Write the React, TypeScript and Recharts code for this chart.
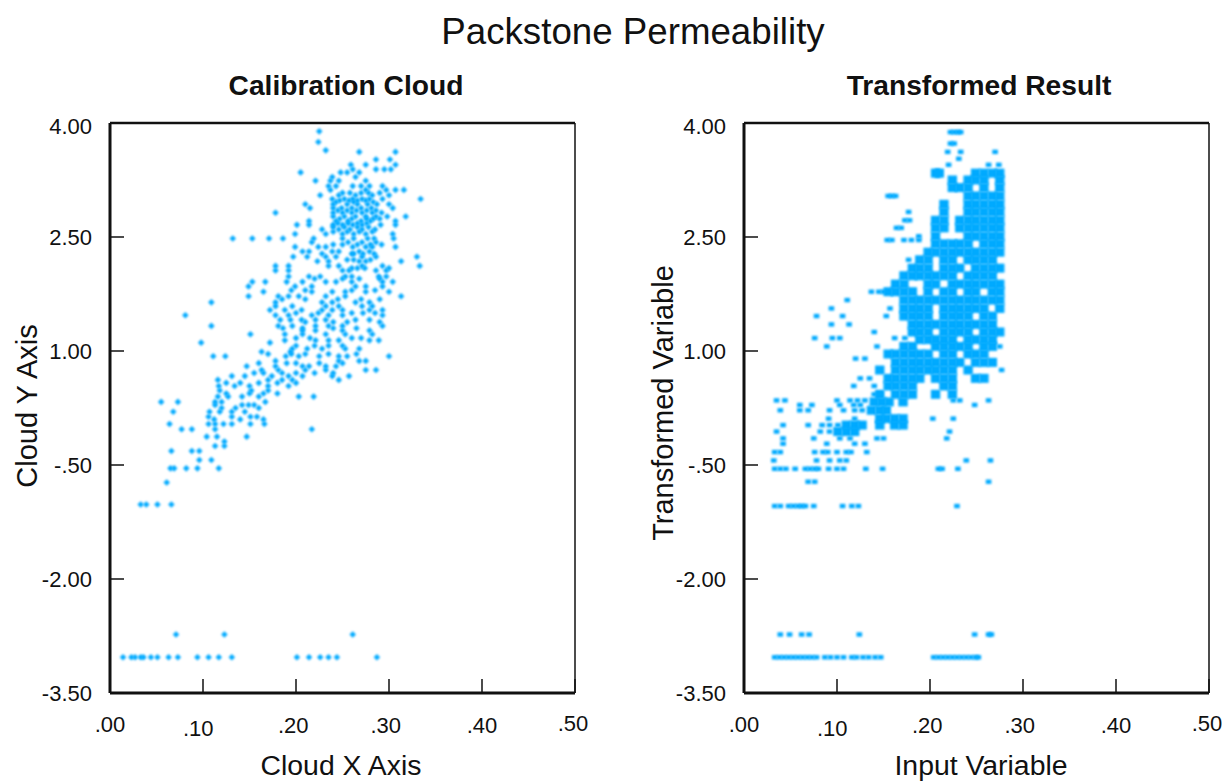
import React from "react";
import { ScatterChart, Scatter, XAxis, YAxis } from "recharts";

const xTicks = [0, 0.1, 0.2, 0.3, 0.4, 0.5];
const xTickLabels = [".00", ".10", ".20", ".30", ".40", ".50"];
const yTicks = [-3.5, -2, -0.5, 1, 2.5, 4];
const yTickLabels = ["-3.50", "-2.00", "-.50", "1.00", "2.50", "4.00"];
const mainTitle = "Packstone Permeability";
const leftTitle = "Calibration Cloud";
const rightTitle = "Transformed Result";
const CLOUD = "#00AAFF";

// each row: [y, x, x, x ...]
const cloudRows: number[][] = [
  [3.89, .225], [3.75, .224], [3.64, .232], [3.62, .268, .307], [3.52, .286, .301],
  [3.45, .259, .275, .307], [3.39, .261, .286, .295, .302], [3.35, .205, .248, .255, .268],
  [3.29, .239, .264], [3.24, .221, .237, .246, .275], [3.17, .235, .243, .261, .27, .279, .293],
  [3.12, .237, .275, .297, .307, .316], [3.05, .226, .246, .264, .282, .3],
  [3.0, .239, .252, .261, .271, .279, .293, .334], [2.98, .247, .257, .266, .275],
  [2.93, .21, .24, .255, .266, .277, .287, .3], [2.88, .215, .24, .249, .26, .27, .281, .304],
  [2.82, .178, .24, .25, .26, .271, .282, .292], [2.77, .24, .252, .264, .275, .286, .298, .318],
  [2.71, .214, .243, .256, .27, .28, .307], [2.66, .201, .214, .24, .25, .261, .271, .291, .307],
  [2.6, .228, .246, .258, .271, .285], [2.54, .199, .232, .25, .262, .275, .304],
  [2.48, .132, .153, .171, .186, .219, .25, .262, .277, .284, .305], [2.43, .217, .256, .271, .286],
  [2.37, .199, .224, .232, .261, .275, .282, .307], [2.31, .207, .214, .239, .246, .268, .279],
  [2.24, .197, .212, .232, .243, .271, .286, .33], [2.18, .223, .235, .268, .275, .313],
  [2.12, .178, .192, .235, .246, .271, .333, .293], [2.06, .178, .192, .25, .257, .286, .297],
  [1.98, .192, .214, .226, .253, .26, .289, .297], [1.91, .153, .167, .19, .207, .232, .243, .26, .293, .304],
  [1.85, .149, .199, .217, .264, .275, .293], [1.78, .165, .217, .239, .253, .275, .3],
  [1.72, .149, .181, .192, .203, .232, .253, .313], [1.64, .109, .178, .228, .239, .264, .279],
  [1.59, .178, .196, .232, .246, .271, .282], [1.54, .172, .188, .206, .228, .239, .25, .279, .293],
  [1.47, .081, .178, .192, .217, .235, .25, .293], [1.41, .183, .194, .206, .221, .232, .264, .279],
  [1.33, .109, .181, .196, .221, .235, .25, .293], [1.27, .207, .221, .25, .279],
  [1.22, .151, .188, .207, .232, .253, .282], [1.14, .188, .221, .235, .246, .279, .289],
  [1.11, .098, .172], [1.03, .196, .212, .228, .253, .268], [.99, .163, .194],
  [.93, .111, .124, .189, .203, .225, .246, .255, .3], [.87, .178, .246, .268, .275],
  [.8, .147, .178, .207, .214, .232, .243], [.75, .163, .181, .21, .232, .275, .286],
  [.67, .131, .145, .174, .192, .207, .239, .257], [.62, .116, .17, .185, .196, .246],
  [.54, .117, .134, .15, .17, .192], [.48, .118, .152, .17], [.4, .116, .127, .142, .16, .203, .219],
  [.33, .055, .073, .113, .12, .167], [.29, .113, .142, .149, .155], [.2, .068, .107, .118, .131, .145],
  [.135, .106, .131, .151, .158], [.04, .064, .106, .113, .122, .131, .151, .166],
  [-.03, .077, .088, .113, .217], [-.127, .104, .115, .147], [-.19, .123], [-.25, .113, .123],
  [-.316, .066, .088, .096], [-.435, .096, .109], [-.544, .065, .069, .082, .094, .117], [-.73, .061],
  [-1.02, .033, .039, .051, .066], [-2.73, .071, .123, .261],
  [-3.03, .014, .023, .027, .033, .036, .044, .051, .063, .073, .094, .106, .117, .131, .201, .214, .226, .235, .244, .287],
  [3.08, .25, .258, .27, .278, .29], [2.96, .243, .262, .283], [2.85, .245, .255, .265, .276, .286],
  [2.74, .247, .26, .276, .283, .29], [2.68, .245, .256, .266, .276], [2.63, .24, .252, .266, .278],
  [2.57, .24, .255, .268, .282], [2.4, .24, .25, .266, .28, .292], [2.28, .228, .26, .272, .284, .262],
  [2.2, .255, .262, .28], [2.09, .26, .266, .274, .3], [1.95, .22, .25, .268, .29], [1.8, .195, .21, .26, .285],
  [1.68, .185, .21, .245, .27, .29], [1.5, .2, .224, .26, .272, .285], [1.38, .21, .24, .255, .29],
  [1.3, .186, .207, .24, .265], [1.17, .2, .215, .26, .27], [1.07, .2, .22, .235, .25],
  [.96, .17, .195, .21, .235, .265], [.84, .16, .19, .2, .225, .25], [.71, .155, .165, .185, .2, .22, .24],
  [.58, .125, .14, .16, .18, .2], [.44, .125, .15, .165, .18], [.25, .12, .135, .16], [.1, .112, .14, .165],
];

const transformedBlocks: number[][] = [
  [3.34, .206, .21, .249, .258, .267, .275],
  [3.25, .224, .241, .249, .258, .275],
  [3.15, .224, .232, .241, .258, .275],
  [3.04, .241, .249, .258, .267, .275],
  [2.93, .215, .241, .249, .258, .267, .275],
  [2.83, .215, .241, .249, .258, .267, .275],
  [2.72, .206, .215, .232, .241, .249, .258, .267, .275],
  [2.62, .206, .215, .232, .241, .249, .258, .267, .275],
  [2.51, .206, .241, .249, .258, .267, .275],
  [2.41, .206, .215, .224, .232, .241, .258, .267, .275],
  [2.3, .198, .206, .215, .224, .232, .241, .249, .258, .267, .275],
  [2.2, .189, .198, .215, .224, .241, .249, .258, .267],
  [2.09, .181, .189, .198, .215, .224, .232, .249, .258, .267, .275],
  [1.99, .172, .181, .189, .198, .206, .215, .224, .241, .249, .258, .267],
  [1.88, .163, .172, .198, .206, .224, .232, .241, .249, .258, .267, .275],
  [1.78, .155, .163, .172, .181, .198, .215, .224, .241, .249, .267, .275],
  [1.67, .172, .181, .189, .198, .206, .215, .224, .232, .241, .249, .258, .267, .275],
  [1.56, .172, .181, .189, .198, .215, .224, .232, .241, .249, .258, .275],
  [1.46, .172, .181, .189, .198, .215, .224, .232, .241, .258, .267],
  [1.35, .181, .189, .198, .206, .215, .224, .232, .241, .249, .258, .267],
  [1.25, .181, .189, .198, .215, .224, .232, .241, .258, .267, .275],
  [1.15, .189, .198, .206, .215, .224, .241, .249, .258, .267],
  [1.06, .172, .181, .206, .215, .224, .232, .241, .258, .267],
  [.96, .155, .163, .172, .181, .189, .198, .215, .224, .241, .249, .258],
  [.85, .163, .172, .181, .189, .198, .206, .215, .224, .232, .249, .258, .267],
  [.75, .146, .163, .172, .181, .189, .198, .206, .215, .224, .241],
  [.64, .155, .163, .172, .181, .189, .206, .215, .224, .249, .258],
  [.54, .155, .163, .172, .181, .215, .224],
  [.43, .146, .163, .172, .181, .206, .224],
  [.33, .14, .148, .156, .171],
  [.22, .137, .146, .153],
  [.11, .146, .153, .162, .171],
  [.025, .11, .119, .127, .146, .162, .171],
  [-.06, .101, .11, .119],
];

const transformedDots: number[][] = [
  [3.88, .222, .226, .23, .233], [3.73, .222, .226], [3.62, .219, .233, .27], [3.53, .231],
  [3.45, .22, .263, .274], [3.04, .155, .159, .163], [2.83, .177], [2.72, .173, .178], [2.62, .164, .169],
  [2.51, .188], [2.46, .154, .159, .172, .18, .188], [2.2, .177], [1.78, .137, .15, .145], [1.67, .111],
  [1.56, .094, .157], [1.46, .078, .106, .153], [1.35, .094, .113], [1.25, .14],
  [1.17, .076, .095, .103, .162, .173], [1.06, .089, .143, .275], [.9, .12, .13], [.75, .277],
  [.64, .125, .135], [.54, .118, .14], [.43, .14, .146],
  [.35, .035, .044, .1, .114, .122, .13, .225, .232, .263], [.29, .06, .073, .103, .118, .125, .248],
  [.22, .039, .06, .069, .092, .107, .119, .127],
  [.11, .091, .119, .203, .225], [.025, .042, .069, .084, .092, .101],
  [-.06, .035, .082, .092, .221], [-.15, .042, .075, .103, .114, .143, .15, .218],
  [-.22, .042, .089, .119, .13], [-.33, .033, .039, .076, .085, .09, .1, .11, .115, .132],
  [-.44, .032, .078, .092, .103, .11, .239, .265],
  [-.55, .033, .039, .045, .055, .066, .071, .076, .08, .091, .1, .107, .131, .149, .209, .213, .23],
  [-.72, .069, .076, .263],
  [-1.04, .033, .039, .048, .053, .058, .062, .066, .075, .106, .116, .123, .229],
  [-2.73, .039, .049, .062, .07, .124, .248, .263, .266],
  [-3.03, .033, .038, .043, .048, .053, .058, .063, .068, .073, .078, .087, .093, .1, .107, .116, .121, .128, .134, .141, .147,
    .204, .209, .214, .219, .224, .229, .234, .239, .244, .249, .252],
];

const toPoints = (rows: number[][]) =>
  rows.flatMap((r) => r.slice(1).map((x) => ({ x, y: r[0] })));

const FONT = "'Liberation Sans', Arial, sans-serif";
const SOFT = { filter: "blur(0.8px)" };
const xLabelDx = [0, -4.7, -2.7, -3.3, 0, -2];
const xLabelDy = [0, 4, 1, 1, 1, -1];

const Diamond = (p: any) => (
  <path style={SOFT} d={`M${p.cx} ${p.cy - 3.3}L${p.cx + 3.3} ${p.cy}L${p.cx} ${p.cy + 3.3}L${p.cx - 3.3} ${p.cy}Z`} fill={CLOUD} />
);
const Block = (p: any) => <rect style={SOFT} x={p.cx - 4.7} y={p.cy - 4.5} width={9.4} height={9} fill={CLOUD} />;
const Dot = (p: any) => <rect style={SOFT} x={p.cx - 2.8} y={p.cy - 2.2} width={5.6} height={4.4} fill={CLOUD} />;

const BottomTick = (p: any) => {
  const i = xTicks.indexOf(p.payload.value);
  return (
    <g>
      <line x1={p.x} x2={p.x} y1={p.y} y2={p.y - 14} stroke="#111" strokeWidth={1.5} />
      <text x={p.x + xLabelDx[i]} y={p.y + 39 + xLabelDy[i]} textAnchor="middle" fontSize={22} fontFamily={FONT} fill="#111">
        {xTickLabels[i]}
      </text>
    </g>
  );
};
const TopTick = (p: any) => <line x1={p.x} x2={p.x} y1={p.y} y2={p.y + 14} stroke="#111" strokeWidth={1.5} />;
const LeftTick = (p: any) => {
  const i = yTicks.indexOf(p.payload.value);
  return (
    <g>
      <line x1={p.x} x2={p.x + 14} y1={p.y} y2={p.y} stroke="#111" strokeWidth={1.5} />
      <text x={p.x - 18} y={p.y + (i === 5 ? 11 : 8)} textAnchor="end" fontSize={22} fontFamily={FONT} fill="#111">
        {yTickLabels[i]}
      </text>
    </g>
  );
};
const RightTick = (p: any) => <line x1={p.x} x2={p.x - 14} y1={p.y} y2={p.y} stroke="#111" strokeWidth={1.5} />;

function Panel({ left, margin, children }: any) {
  return (
    <div style={{ position: "absolute", left, top: 0 }}>
      <ScatterChart width={612} height={781} margin={margin}>
        <XAxis dataKey="x" type="number" xAxisId="b" orientation="bottom" domain={[0, 0.5]} ticks={xTicks} interval={0}
          height={1} tickSize={0} tickMargin={0} tickLine={false} tick={BottomTick} axisLine={{ stroke: "#111", strokeWidth: 3 }} />
        <XAxis dataKey="x" type="number" xAxisId="t" orientation="top" domain={[0, 0.5]} ticks={xTicks} interval={0}
          height={1} tickSize={0} tickMargin={0} tickLine={false} tick={TopTick} axisLine={{ stroke: "#111", strokeWidth: 2.5 }} />
        <YAxis dataKey="y" type="number" yAxisId="l" orientation="left" domain={[-3.5, 4]} ticks={yTicks} interval={0}
          width={1} tickSize={0} tickMargin={0} tickLine={false} tick={LeftTick} axisLine={{ stroke: "#111", strokeWidth: 3 }} />
        <YAxis dataKey="y" type="number" yAxisId="r" orientation="right" domain={[-3.5, 4]} ticks={yTicks} interval={0}
          width={1} tickSize={0} tickMargin={0} tickLine={false} tick={RightTick} axisLine={{ stroke: "#111", strokeWidth: 1.5 }} />
        {children}
      </ScatterChart>
    </div>
  );
}

const label = (text: string, cx: number, cy: number, size: number, extra: any = {}) => (
  <div style={{
    position: "absolute", left: cx - 300, top: cy - 30, width: 600, height: 60, lineHeight: "60px",
    textAlign: "center", fontFamily: FONT, fontSize: size, color: "#111", whiteSpace: "nowrap", ...extra,
  }}>{text}</div>
);

export default function App() {
  return (
    <div style={{ position: "absolute", left: 0, top: 0, width: 1224, height: 781, background: "#fff", overflow: "hidden" }}>
      <Panel left={0} margin={{ left: 109, right: 36, top: 122, bottom: 87 }}>
        <Scatter data={toPoints(cloudRows)} xAxisId="b" yAxisId="l" shape={Diamond} isAnimationActive={false} />
      </Panel>
      <Panel left={612} margin={{ left: 131, right: 14, top: 122, bottom: 87 }}>
        <Scatter data={toPoints(transformedBlocks)} xAxisId="b" yAxisId="l" shape={Block} isAnimationActive={false} />
        <Scatter data={toPoints(transformedDots)} xAxisId="b" yAxisId="l" shape={Dot} isAnimationActive={false} />
      </Panel>
      {label(mainTitle, 633, 32, 36.7)}
      {label(leftTitle, 346, 85, 28.2, { fontWeight: 700 })}
      {label(rightTitle, 979, 85, 28.2, { fontWeight: 700 })}
      {label("Cloud X Axis", 341, 765, 28.4)}
      {label("Input Variable", 981, 765, 28.4)}
      {label("Cloud Y Axis", 27, 406, 29, { transform: "rotate(-90deg)" })}
      {label("Transformed Variable", 663, 403, 29, { transform: "rotate(-90deg)" })}
    </div>
  );
}
